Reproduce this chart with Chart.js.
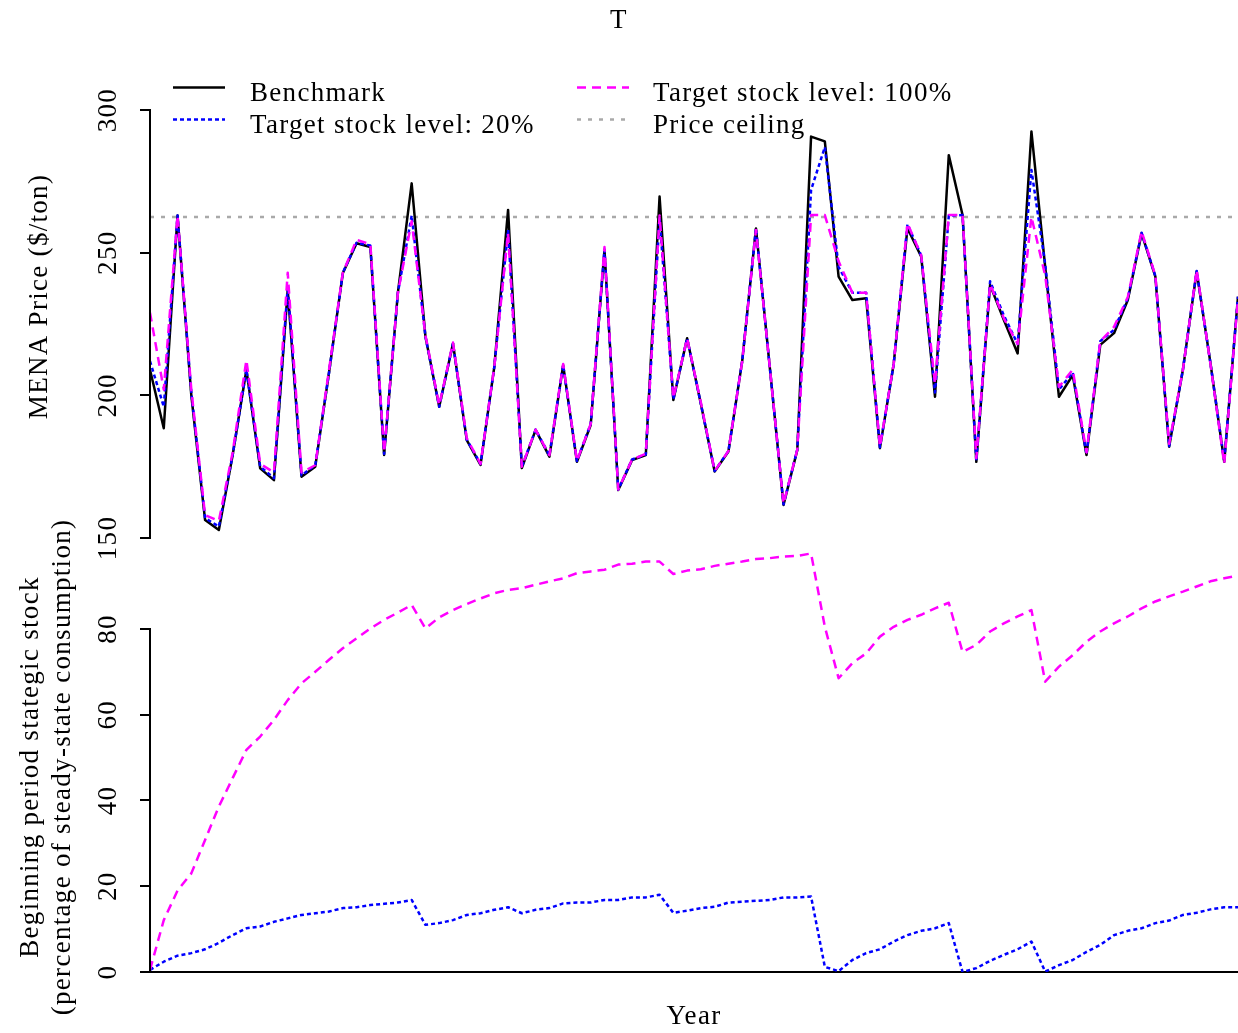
<!DOCTYPE html>
<html>
<head>
<meta charset="utf-8">
<script src="https://cdn.jsdelivr.net/npm/chart.js@4.4.1/dist/chart.umd.min.js"></script>
<style>
html,body{margin:0;padding:0;background:#fff;}
#wrap{width:1238px;height:1033px;}
</style>
</head>
<body>
<div id="wrap"><canvas id="c" width="1238" height="1033"></canvas></div>
<script>
// ---------- data ----------
const periods = Array.from({length: 80}, (_, i) => i + 1);

const benchmark = [209,188.5,263,200,156.3,152.8,179,209,174.4,170.3,
237,171.5,175,208,242.8,253.3,252,179.1,236,274.3,
220.6,196,218.2,184.3,175.6,210,265,174.5,187.9,178.5,
210.6,176.7,189.6,251,166.8,177.3,179.1,269.7,198.4,220,
197,173.3,180.3,212,258.5,210,161.6,180.8,290.7,289,
241.6,233.4,234,181.5,211,258.6,248.6,199.5,284.2,263.2,
176.7,238.7,226.4,214.7,292.5,245,199.5,207.1,179.1,217.7,
221.8,233.4,256.8,241.6,182,209,243.4,211.3,176.7,234.6];

const target20Price = [212,196,263,201,157,154,179,209,175,171,
238,172,175.5,208,243,253.5,252.5,179.5,236,263,
220.6,196,218.2,184.5,176,210,258,175,188,179,
210.6,177,190,251,167,177.5,179.3,262,198.6,220,
197,173.5,180.5,212,258.5,210,161.8,181,272,287,
245,236,236,181.8,211,260,249,201,263,263.2,
177,240,228,218,279,246,202,208,179.3,219,
223,234,257,241.8,182.2,209,243.6,211.3,177,234.6];

const target100Price = [229,202,263,202,158,156,180,212.4,176,173,
243,173,175.5,209,243,254.5,253,180,236,261,
221,196.5,218.5,185,176,210,257,175,188,179,
211,177,190,252,167,177.5,179.5,263,199,220,
197.5,173.5,180.5,212,258,210,162,181,263.2,263.2,
247,236,236,182,211,260.3,249,204,263.2,263.2,
178,239,227,218,262.6,242,203,209,180,219,
224,234.5,257.5,242,183,209,244,211,176,234];

const priceCeiling = 262.5;

const target20Stock = [0.5,2.4,3.8,4.4,5.3,6.8,8.6,10.2,10.6,11.7,
12.5,13.3,13.7,14.1,14.9,15.1,15.6,15.9,16.2,16.8,
11,11.4,12.1,13.3,13.7,14.5,15.1,13.7,14.5,14.9,
16,16.2,16.2,16.8,16.8,17.4,17.4,18,13.8,14.3,
14.9,15.2,16.2,16.4,16.6,16.8,17.4,17.4,17.6,1.2,
0.2,2.8,4.4,5.3,7.1,8.6,9.6,10.2,11.4,0,
0.9,2.6,4,5.3,7.1,0.1,1.6,2.8,4.7,6.3,
8.6,9.6,10.2,11.4,12,13.3,13.8,14.6,15.1,15.1];

const target100Stock = [0.5,12.1,19,23,30.8,38.6,45.2,51.8,54.9,58.8,
63.4,67.3,70,72.8,75.5,77.8,80.1,82.1,83.8,85.6,
80.1,82.7,84.4,85.8,87.1,88.3,89.1,89.5,90.3,91.1,
91.8,93,93.4,93.8,95,95.2,95.7,95.7,92.8,93.6,
93.9,94.7,95.2,95.7,96.3,96.5,96.9,97,97.6,80.5,
68.5,72,74.3,78.2,80.5,82.1,83.3,84.8,86.1,74.6,
76.3,79.4,81.3,82.9,84.4,67.7,71.2,73.9,77,79.4,
81.3,82.9,84.8,86.4,87.6,88.7,89.9,91.1,91.8,92.4];

const priceTicks = [150, 200, 250, 300];
const stockTicks = [0, 20, 40, 60, 80];

const titleText = 'T';
const xTitle = 'Year';
const priceTitle = 'MENA Price ($/ton)';
const stockTitle = ['Beginning period stategic stock', '(percentage of steady-state consumption)'];

// ---------- styling ----------
const FAMILY = '"Liberation Serif", "Times New Roman", serif';
const FS = 27;
const font = {family: FAMILY, size: FS, weight: 'normal'};

const spacingPlugin = {
  id: 'spacing',
  beforeDraw(chart) { chart.ctx.letterSpacing = '1.3px'; }
};

const axesPlugin = {
  id: 'axesDraw',
  afterDraw(chart) {
    const ctx = chart.ctx;
    ctx.save();
    ctx.letterSpacing = '1.3px';
    ctx.strokeStyle = '#000';
    ctx.lineWidth = 2;
    ctx.setLineDash([]);
    ctx.fillStyle = '#000';
    ctx.font = FS + 'px ' + FAMILY;
    [['yPrice', priceTicks], ['yStock', stockTicks]].forEach(([id, ticks]) => {
      const s = chart.scales[id];
      const x = s.right;
      ctx.beginPath();
      ctx.moveTo(x, s.getPixelForValue(ticks[0]) + 1);
      ctx.lineTo(x, s.getPixelForValue(ticks[ticks.length - 1]) - 1);
      ctx.stroke();
      ctx.textAlign = 'center';
      ctx.textBaseline = 'alphabetic';
      s.ticks.forEach(t => {
        const y = s.getPixelForValue(t.value);
        ctx.save();
        ctx.translate(x - 34, y);
        ctx.rotate(-Math.PI / 2);
        ctx.fillText(String(t.value), 0, 0);
        ctx.restore();
      });
    });
    // stock axis title (two lines), centred like the reference's outer margin text
    const st = chart.scales.yStock;
    const cy = (st.top + st.bottom) / 2 + 12;
    ctx.textBaseline = 'middle';
    stockTitle.forEach((line, i) => {
      ctx.save();
      ctx.translate(31 + i * 32.4, cy);
      ctx.rotate(-Math.PI / 2);
      ctx.fillText(line, 0, 0);
      ctx.restore();
    });
    ctx.restore();
  }
};

const legendPlugin = {
  id: 'innerLegend',
  afterDraw(chart) {
    const ctx = chart.ctx;
    const items = chart.data.datasets.filter(d => d.inLegend);
    const sampleX = [173, 577];
    const textX = [250, 653];
    const rowY = [87.5, 119.5];
    ctx.save();
    ctx.letterSpacing = '1.3px';
    ctx.font = FS + 'px ' + FAMILY;
    ctx.textAlign = 'left';
    ctx.textBaseline = 'alphabetic';
    items.forEach((d, i) => {
      const col = Math.floor(i / 2), row = i % 2;
      const y = rowY[row];
      ctx.strokeStyle = d.borderColor;
      ctx.lineWidth = d.borderWidth;
      ctx.setLineDash(d.borderDash || []);
      ctx.beginPath();
      ctx.moveTo(sampleX[col], y);
      ctx.lineTo(sampleX[col] + 52, y);
      ctx.stroke();
      ctx.setLineDash([]);
      ctx.fillStyle = '#000';
      ctx.fillText(d.label, textX[col], y + 13.5);
    });
    ctx.restore();
  }
};

const BLACK = '#000000', BLUE = '#0000ff', MAGENTA = '#ff00ff', GRAY = '#a9a9a9';

const datasets = [
  {label: 'Benchmark', data: benchmark, yAxisID: 'yPrice', borderColor: BLACK, borderWidth: 2.5, borderDash: [], order: 2, inLegend: true},
  {label: 'Target stock level: 20%', data: target20Price, yAxisID: 'yPrice', borderColor: BLUE, borderWidth: 2.5, borderDash: [4, 3], order: 1, inLegend: true},
  {label: 'Target stock level: 100%', data: target100Price, yAxisID: 'yPrice', borderColor: MAGENTA, borderWidth: 2.5, borderDash: [9, 6], order: 0, inLegend: true},
  {label: 'Price ceiling', data: periods.map(() => priceCeiling), yAxisID: 'yPrice', borderColor: GRAY, borderWidth: 2.5, borderDash: [4, 7], order: 3, inLegend: true},
  {label: 'Stock 20%', data: target20Stock, yAxisID: 'yStock', borderColor: BLUE, borderWidth: 2.5, borderDash: [4, 3], order: 1},
  {label: 'Stock 100%', data: target100Stock, yAxisID: 'yStock', borderColor: MAGENTA, borderWidth: 2.5, borderDash: [9, 6], order: 0}
];

const yCommon = {
  position: 'left',
  stack: 'panels',
  offset: false,
  grace: 0,
  border: {display: false},
  grid: {display: true, drawOnChartArea: false, drawTicks: true, tickLength: 10, color: '#000', lineWidth: 2},
  ticks: {display: false},
  afterFit: (s) => { s.width = 150; }
};

new Chart(document.getElementById('c'), {
  type: 'line',
  data: {labels: periods, datasets},
  options: {
    responsive: false,
    animation: false,
    devicePixelRatio: 1,
    layout: {padding: 0},
    elements: {
      point: {radius: 0, hoverRadius: 0},
      line: {tension: 0, fill: false, borderJoinStyle: 'round', borderCapStyle: 'butt'}
    },
    plugins: {
      legend: {display: false},
      tooltip: {enabled: false},
      title: {display: true, text: titleText, color: '#000', font, padding: {top: 5, bottom: 17.6}}
    },
    scales: {
      x: {
        type: 'category',
        offset: false,
        grid: {display: false, drawTicks: false},
        ticks: {display: false},
        border: {display: true, color: '#000', width: 2},
        title: {display: true, text: xTitle, color: '#000', font, padding: {top: 0, bottom: 0}},
        afterFit: (s) => { s.height = 61; }
      },
      yPrice: Object.assign({}, yCommon, {
        weight: 2,
        stackWeight: 483,
        min: 150,
        max: 319.3,
        afterBuildTicks: (s) => { s.ticks = priceTicks.map(v => ({value: v})); },
        title: {display: true, text: priceTitle, color: '#000', font, padding: {top: 24, bottom: 0}}
      }),
      yStock: Object.assign({}, yCommon, {
        weight: 1,
        stackWeight: 434,
        min: 0,
        max: 101.2,
        afterBuildTicks: (s) => { s.ticks = stockTicks.map(v => ({value: v})); },
        title: {display: false}
      })
    }
  },
  plugins: [spacingPlugin, axesPlugin, legendPlugin]
});
</script>
</body>
</html>
